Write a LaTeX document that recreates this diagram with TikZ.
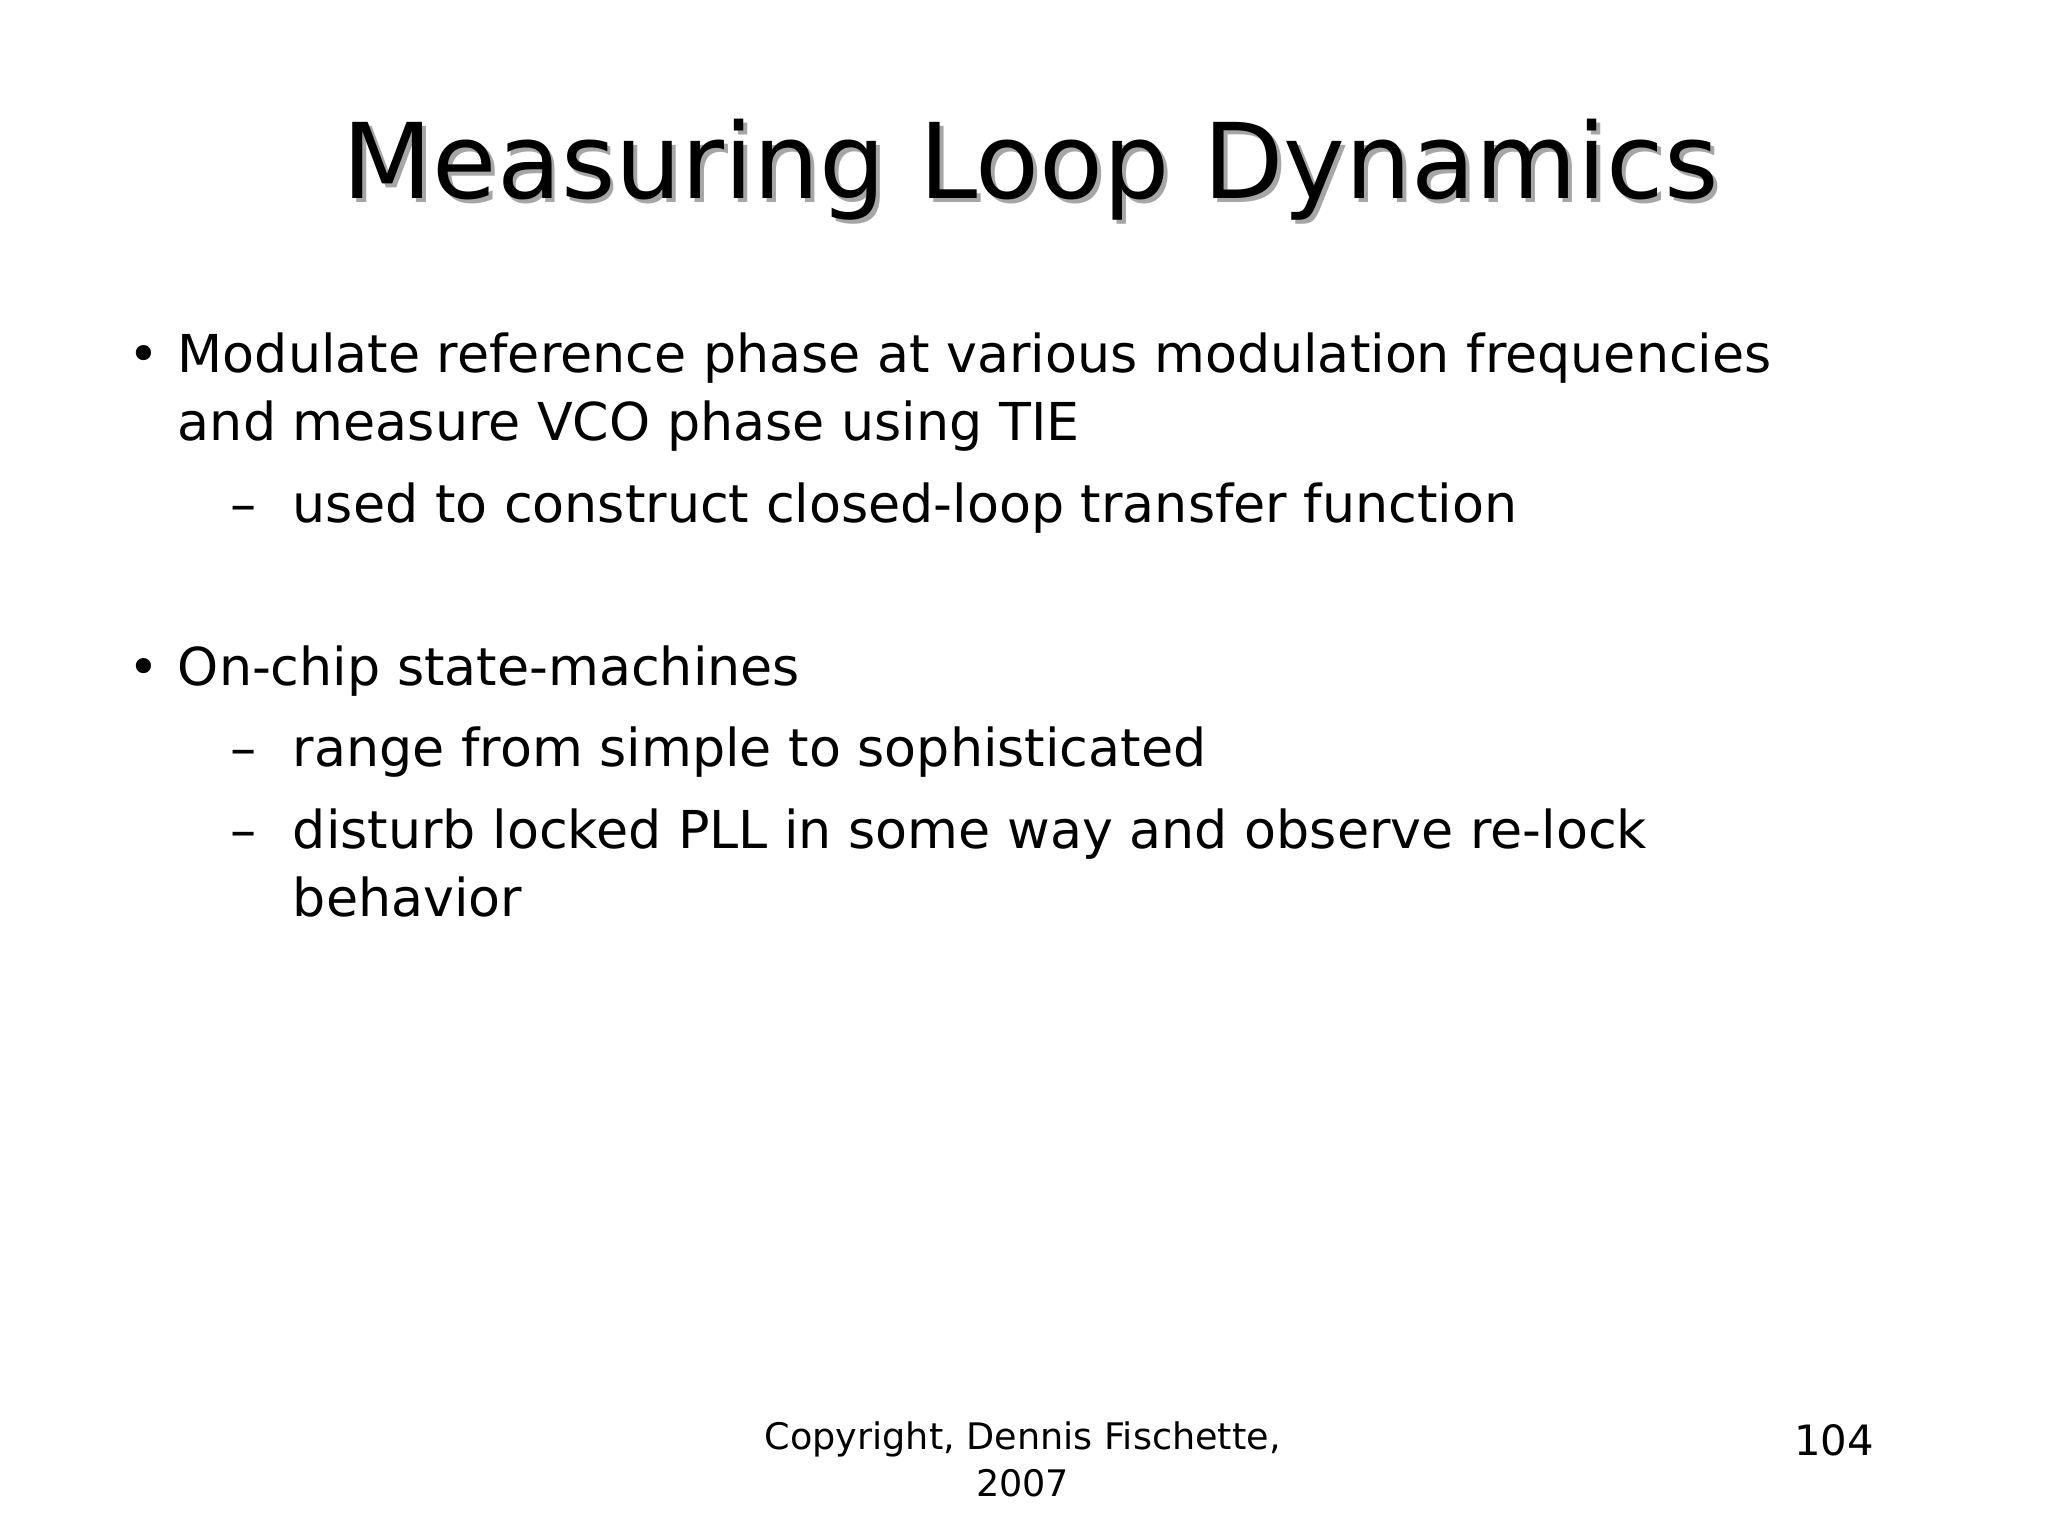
\documentclass[tikz,border=0pt]{standalone}
\usepackage{fontspec}
\setmainfont{DejaVu Sans}
\begin{document}
\begin{tikzpicture}[x=1pt,y=-1pt,
  body/.style={anchor=base west,inner sep=0pt,font=\fontsize{40}{48}\selectfont},
  foot/.style={inner sep=0pt,font=\fontsize{28}{34}\selectfont}]
\useasboundingbox[fill=white] (0,0) rectangle (1568,1175);
\node[anchor=base,inner sep=0pt,text=black!35,font=\fontsize{80}{96}\selectfont] (ts) at (792,155) {Measuring Loop Dynamics};
\node[anchor=base,inner sep=0pt,font=\fontsize{80}{96}\selectfont] (t) at (789,152) {Measuring Loop Dynamics};
\node[body] (b1) at (98,285) {•};
\node[body] (l1) at (136,285) {Modulate reference phase at various modulation frequencies};
\node[body] (l2) at (136,337) {and measure VCO phase using TIE};
\node[body] (d1) at (176,400) {–};
\node[body] (l3) at (224,400) {used to construct closed-loop transfer function};
\node[body] (b2) at (98,525) {•};
\node[body] (l4) at (136,525) {On-chip state-machines};
\node[body] (d2) at (176,587) {–};
\node[body] (l5) at (224,587) {range from simple to sophisticated};
\node[body] (d3) at (176,650) {–};
\node[body] (l6) at (224,650) {disturb locked PLL in some way and observe re-lock};
\node[body] (l7) at (224,702) {behavior};
\node[foot,anchor=base] (c1) at (783,1110) {Copyright, Dennis Fischette,};
\node[foot,anchor=base] (c2) at (783,1146) {2007};
\node[foot,anchor=base east,font=\fontsize{32}{38}\selectfont] (pg) at (1435,1114) {104};
\end{tikzpicture}
\end{document}
